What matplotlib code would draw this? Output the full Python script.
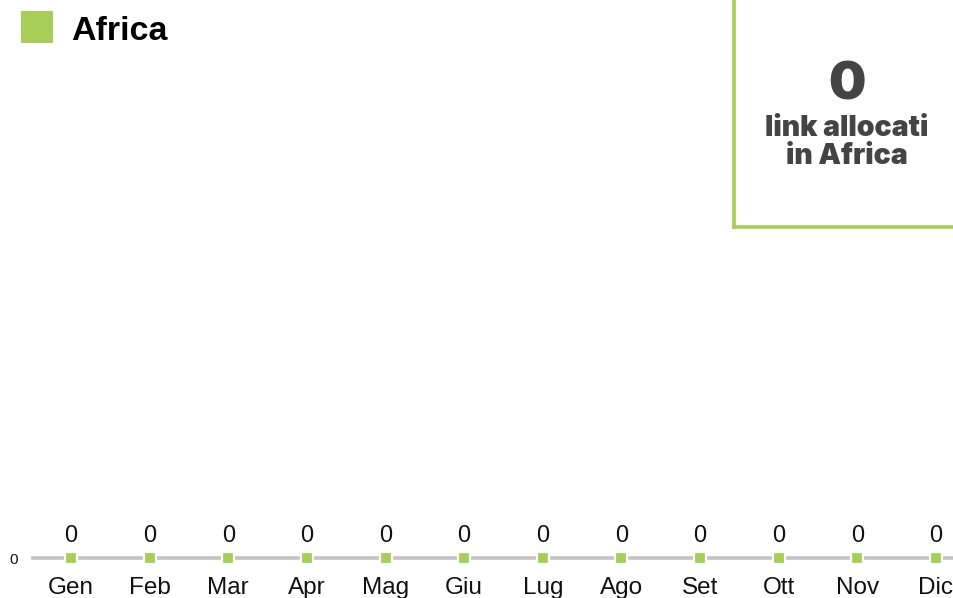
import matplotlib
matplotlib.use("Agg")
import matplotlib.pyplot as plt
from matplotlib.lines import Line2D

plt.rcParams['font.family'] = ['Liberation Sans', 'DejaVu Sans']

# Monthly link counts for the region
months = ["Gen", "Feb", "Mar", "Apr", "Mag", "Giu", "Lug", "Ago", "Set", "Ott", "Nov", "Dic"]
links = [0, 0, 0, 0, 0, 0, 0, 0, 0, 0, 0, 0]
region = "Africa"
total_links = sum(links)

GREEN = "#a6ce58"
GRAY = "#c3c3c3"
DARK = "#444444"

W, H = 954, 598
fig = plt.figure(figsize=(W / 100, H / 100), dpi=100)
fig.patch.set_facecolor("white")

def fx(px):
    return px / W

def fy(py):
    return 1 - py / H

# Main axes: baseline at the bottom of the axes
ax = fig.add_axes([fx(33), fy(558), 1 - fx(33), fy(100) - fy(558)])
x = list(range(len(months)))
ax.set_xlim(-0.483, len(months) - 1 + 0.229)
ax.set_ylim(0, 1)
ax.axhline(0, color=GRAY, lw=2.6, zorder=1, clip_on=False)
ax.plot(x, links, ls="none", marker="s", markersize=9, markerfacecolor=GREEN,
        markeredgecolor="white", markeredgewidth=1.6, zorder=3, clip_on=False)
for xi, v in zip(x, links):
    ax.annotate(str(v), (xi, v), xytext=(0, 22), textcoords="offset pixels",
                ha="center", va="center", fontsize=17, color="#111111")

for s in ax.spines.values():
    s.set_visible(False)
ax.set_xticks(x)
ax.set_xticklabels(months, fontsize=17.5, color="#111111")
ax.tick_params(axis="x", length=0, pad=14)
ax.set_yticks([0])
ax.set_yticklabels(["0"], fontsize=11, color="#111111")
ax.tick_params(axis="y", length=0, pad=11)
ax.patch.set_alpha(0)

# Legend entry
fig.patches.append(plt.Rectangle((fx(21), fy(43)), fx(53) - fx(21), fy(11) - fy(43),
                                 transform=fig.transFigure, facecolor=GREEN,
                                 edgecolor="none"))
fig.text(fx(71), fy(31), region, fontsize=24.5, fontweight="bold", color="black",
         ha="left", va="center")

# Summary box
fig.add_artist(Line2D([fx(734), fx(734)], [fy(-5), fy(227)], color=GREEN, lw=2.6,
                      transform=fig.transFigure))
fig.add_artist(Line2D([fx(734), fx(960)], [fy(227), fy(227)], color=GREEN, lw=2.6,
                      transform=fig.transFigure))
box_font = ['Inter', 'Liberation Sans', 'DejaVu Sans']
fig.text(fx(847), fy(86), str(total_links), fontsize=38, fontweight="black", color=DARK,
         ha="center", va="center", family=box_font)
fig.text(fx(847), fy(128), "link allocati", fontsize=20.5, fontweight="black", color=DARK,
         ha="center", va="center", family=box_font)
fig.text(fx(847), fy(157), "in " + region, fontsize=20.5, fontweight="black", color=DARK,
         ha="center", va="center", family=box_font)

fig.savefig("out.png", dpi=100, facecolor="white")
